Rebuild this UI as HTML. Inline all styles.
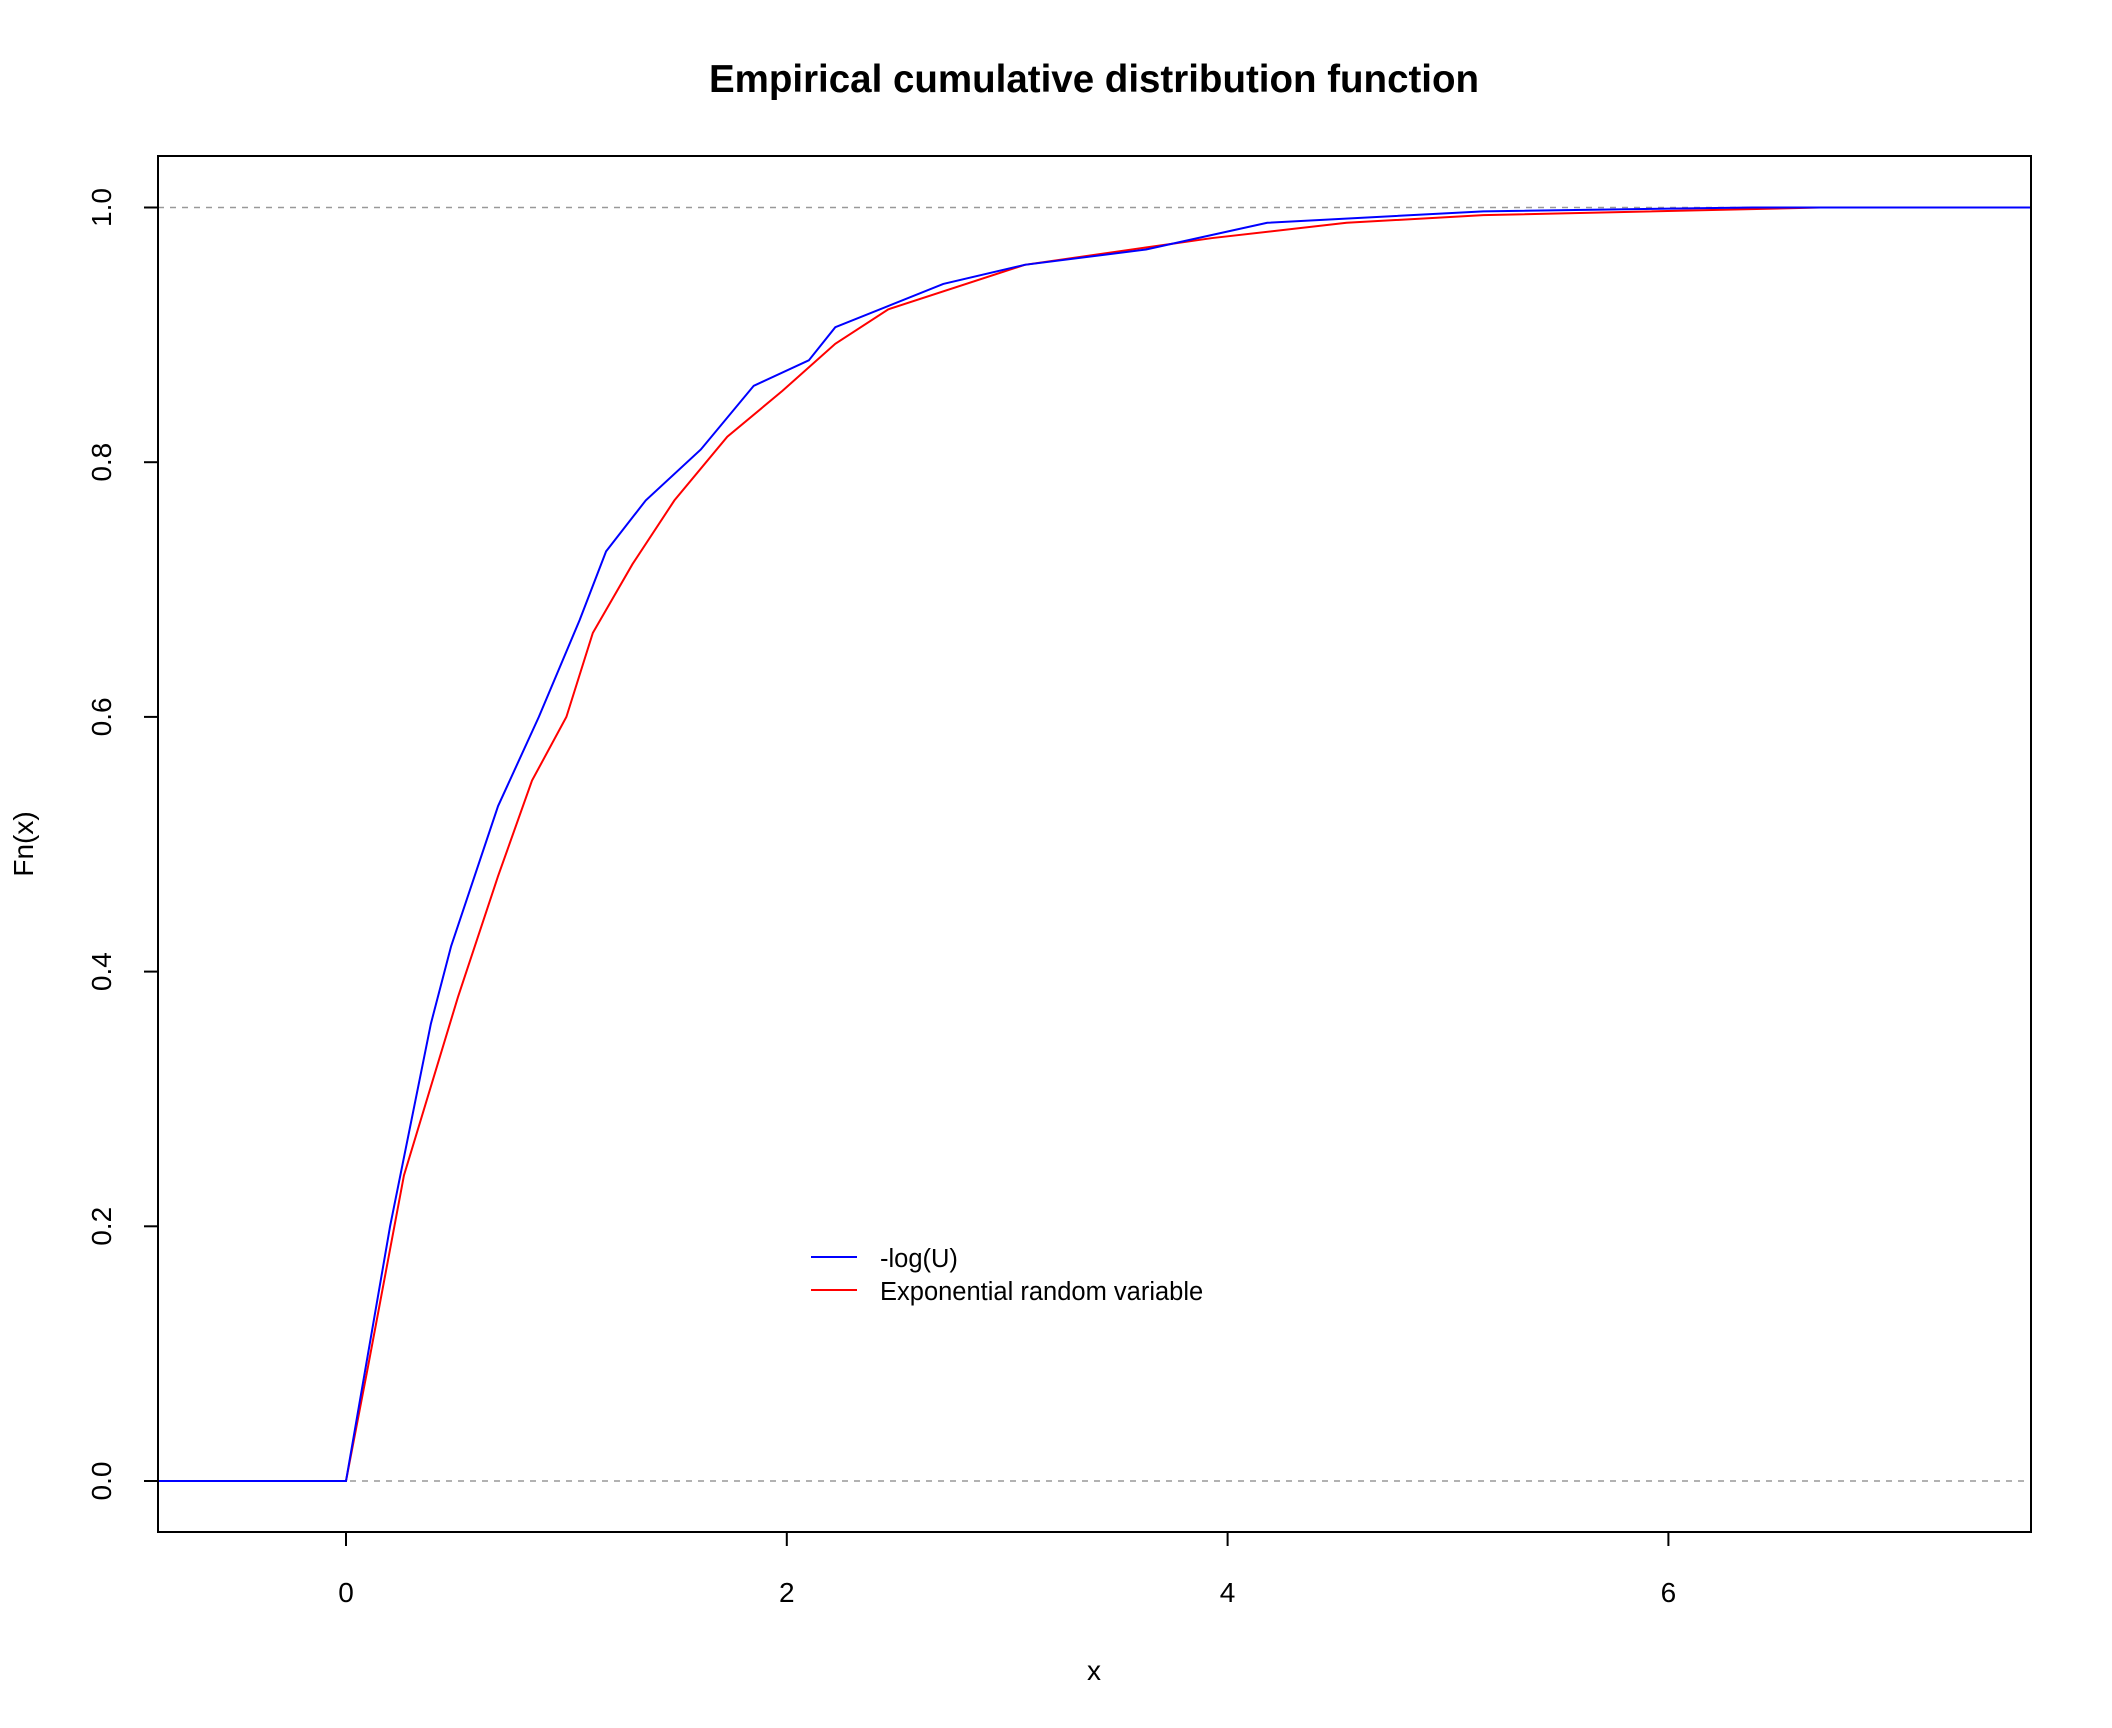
<!DOCTYPE html>
<html><head><meta charset="utf-8"><style>
html,body{margin:0;padding:0;background:#fff;}
svg{display:block;font-family:"Liberation Sans",Arial,sans-serif;}
</style></head><body>
<svg id="chart" width="2112" height="1728" viewBox="0 0 2112 1728" xmlns="http://www.w3.org/2000/svg">
<rect width="2112" height="1728" fill="#fff"/>
<text x="1094" y="92" text-anchor="middle" font-size="38.5" font-weight="bold">Empirical cumulative distribution function</text>
<text x="1094" y="1680" text-anchor="middle" font-size="28">x</text>
<text transform="translate(33,844) rotate(-90)" text-anchor="middle" font-size="28">Fn(x)</text>
<g id="axes"></g>
<g id="series"></g>
<rect x="158" y="156" width="1873" height="1376" fill="none" stroke="#000" stroke-width="2"/>
<g>
<line x1="811" y1="1257" x2="857" y2="1257" stroke="#0000ff" stroke-width="2"/>
<text x="880" y="1267" font-size="25.5">-log(U)</text>
<line x1="811" y1="1290" x2="857" y2="1290" stroke="#ff0000" stroke-width="2"/>
<text x="880" y="1300" font-size="25.5">Exponential random variable</text>
</g>
</svg>
<script>
const xTicks = [0, 2, 4, 6];
const yTicks = [0, 0.2, 0.4, 0.6, 0.8, 1.0];
const blueX = [0, 0.1, 0.2, 0.385, 0.477, 0.69, 0.875, 1.06, 1.18, 1.36, 1.61, 1.85, 2.10, 2.22, 2.71, 3.08, 3.63, 4.18, 5.16, 6.38];
const blueF = [0, 0.10, 0.20, 0.359, 0.42, 0.53, 0.60, 0.676, 0.73, 0.77, 0.81, 0.86, 0.88, 0.906, 0.94, 0.955, 0.967, 0.988, 0.997, 1.0];
const redX = [0, 0.1, 0.263, 0.508, 0.69, 0.844, 1.0, 1.12, 1.30, 1.49, 1.73, 1.98, 2.22, 2.46, 3.08, 3.93, 4.54, 5.16, 6.69];
const redF = [0, 0.09, 0.24, 0.38, 0.475, 0.55, 0.60, 0.666, 0.72, 0.77, 0.82, 0.856, 0.893, 0.92, 0.955, 0.976, 0.988, 0.994, 1.0];
const xMin = -0.856, xMax = 7.645;
const px0 = 158, px1 = 2031, pyTop = 156, pyBot = 1532;
function sx(v){ return 346 + v * 220.4; }
function sy(v){ return 1481 - v * 1273.5; }
const NS = 'http://www.w3.org/2000/svg';
function mk(tag, attrs, parent){ const e = document.createElementNS(NS, tag); for (const k in attrs) e.setAttribute(k, attrs[k]); parent.appendChild(e); return e; }
const axes = document.getElementById('axes');
xTicks.forEach(t => {
  const l = mk('line', {x1: sx(t), x2: sx(t), y1: pyBot, y2: pyBot + 14, stroke: '#000', 'stroke-width': 2}, axes);
  
  
  const tx = mk('text', {x: sx(t), y: 1602, 'text-anchor': 'middle', 'font-size': 28}, axes);
  
  
  tx.textContent = String(t);
});
yTicks.forEach(t => {
  const l = mk('line', {x1: px0 - 14, x2: px0, y1: sy(t), y2: sy(t), stroke: '#000', 'stroke-width': 2}, axes);
  
  
  const tx = mk('text', {transform: `translate(111,${sy(t)}) rotate(-90)`, 'text-anchor': 'middle', 'font-size': 28}, axes);
  
  
  tx.textContent = t.toFixed(1);
});
[0, 1].forEach(v => {
  const l = mk('line', {x1: px0, x2: px1, y1: sy(v), y2: sy(v), stroke: '#999', 'stroke-width': 1.5, 'stroke-dasharray': '6,6'}, axes);
  
  
});
const series = document.getElementById('series');
function draw(xs, fs, color, name){
  let pts = [[sx(xMin), sy(0)]];
  xs.forEach((x, i) => pts.push([sx(x), sy(fs[i])]));
  pts.push([sx(xMax), sy(1)]);
  const p = mk('polyline', {points: pts.map(p => p.join(',')).join(' '), fill: 'none', stroke: color, 'stroke-width': 2}, series);
  
  
}
draw(redX, redF, '#ff0000', 'ecdf-exponential');
draw(blueX, blueF, '#0000ff', 'ecdf-neg-log-u');
</script>
</body></html>
